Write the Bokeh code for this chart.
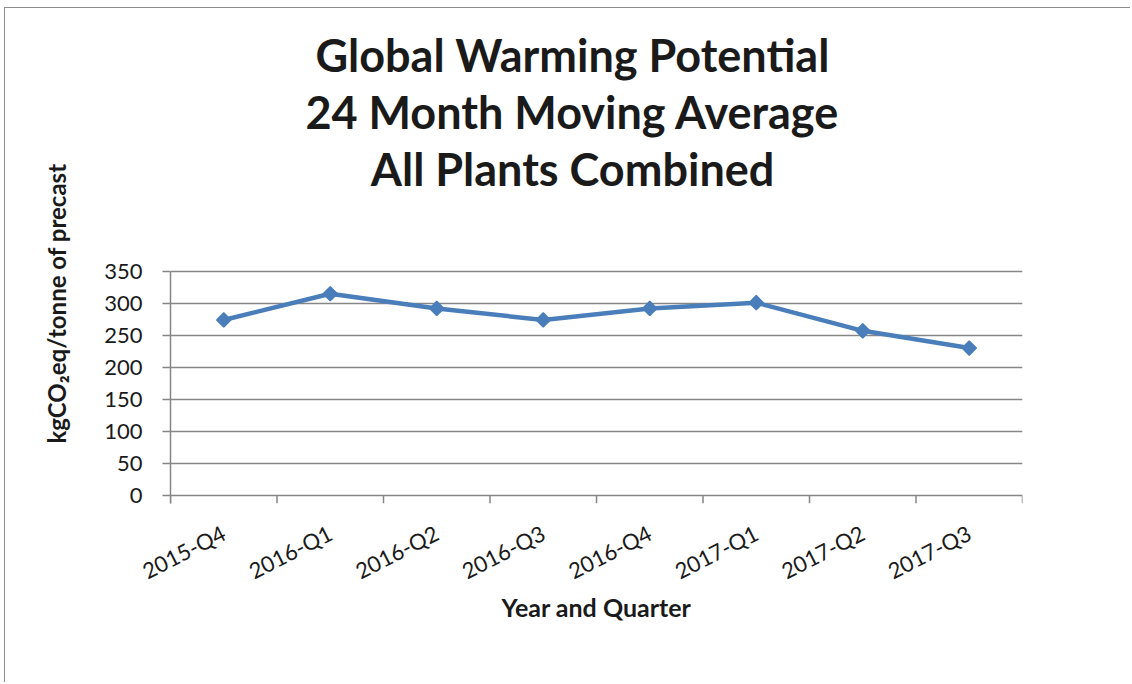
import math
from bokeh.plotting import figure
from bokeh.models import (FactorRange, Range1d, FixedTicker, LinearAxis,
                          CategoricalAxis, Label, Title)
from bokeh.embed import file_html
from bokeh.resources import INLINE

# 24-month moving average of global warming potential, all plants
quarters = ["2015-Q4", "2016-Q1", "2016-Q2", "2016-Q3",
            "2016-Q4", "2017-Q1", "2017-Q2", "2017-Q3"]
gwp = [275, 316, 293, 275, 293, 302, 258, 231]
y_ticks = [0, 50, 100, 150, 200, 250, 300, 350]
title_lines = ["Global Warming Potential", "24 Month Moving Average",
               "All Plants Combined"]
y_title = "kgCO\u2082eq/tonne of precast"
x_title = "Year and Quarter"

FONT = "Lato"
GRID = "#868686"
BLUE = "#4a7ebb"
TEXT = "#1a1a1a"
EDGE = "#8c8c8c"

Y_LOW = -12    # room below zero for the category tick marks
Y_HIGH = 762   # head room above the value axis for the chart title

p = figure(width=1126, height=675,
           x_range=FactorRange(factors=quarters, range_padding=0),
           y_range=Range1d(Y_LOW, Y_HIGH),
           output_backend="svg", toolbar_location=None,
           x_axis_location=None, y_axis_location=None,
           min_border_left=165, min_border_right=109,
           min_border_top=0, min_border_bottom=180,
           styles={"border-left": f"1.5px solid {EDGE}",
                   "border-top": f"1.5px solid {EDGE}",
                   "border-right": "none", "border-bottom": "none",
                   "margin-left": "4px", "margin-top": "7px"})
p.outline_line_color = None
p.background_fill_color = "white"
p.border_fill_color = "white"

# value axis
yax = LinearAxis(ticker=FixedTicker(ticks=y_ticks), bounds=(Y_LOW, 350))
yax.axis_line_color = GRID
yax.axis_line_width = 1.5
yax.major_tick_line_color = GRID
yax.major_tick_line_width = 1.5
yax.major_tick_out = 8
yax.major_tick_in = 0
yax.minor_tick_line_color = None
yax.major_label_standoff = 20
yax.major_label_text_font = FONT
yax.major_label_text_font_size = "22px"
yax.major_label_text_color = TEXT
p.add_layout(yax, "left")

# value axis title, read bottom to top
p.add_layout(Title(text=y_title, align="left", offset=60, standoff=62,
                   text_font=FONT, text_font_style="bold",
                   text_font_size="24px", text_color=TEXT), "left")

# category labels
xax = CategoricalAxis()
xax.axis_line_color = None
xax.major_tick_line_color = None
xax.major_tick_out = 0
xax.major_tick_in = 0
xax.major_label_orientation = 0.47
xax.major_label_standoff = 28
xax.major_label_text_font = FONT
xax.major_label_text_font_size = "22px"
xax.major_label_text_color = TEXT
xax.axis_label = x_title
xax.axis_label_text_font = FONT
xax.axis_label_text_font_style = "bold"
xax.axis_label_text_font_size = "25px"
xax.axis_label_text_color = TEXT
xax.axis_label_standoff = -7
p.add_layout(xax, "below")

p.xgrid.grid_line_color = None
p.ygrid.ticker = FixedTicker(ticks=y_ticks)
p.ygrid.grid_line_color = GRID
p.ygrid.grid_line_width = 1.5

# tick marks on the boundaries between categories (synthetic coordinates)
edges = list(range(len(quarters) + 1))
p.segment(x0=edges, y0=[0] * len(edges), x1=edges, y1=[Y_LOW] * len(edges),
          line_color=GRID, line_width=1.5)

p.line(quarters, gwp, line_color=BLUE, line_width=4.5)
p.scatter(quarters, gwp, marker="square", angle=math.pi / 4, size=10,
          fill_color=BLUE, line_color=BLUE, line_width=1.5)

# chart title, three centred lines in the head room
title_y = [689, 600, 511]
for txt, ty in zip(title_lines, title_y):
    p.add_layout(Label(x=3.775, y=ty, text=txt, text_align="center",
                       text_baseline="alphabetic", text_font=FONT,
                       text_font_style="bold", text_font_size="45px",
                       text_color=TEXT))

open("out.html", "w").write(file_html(p, INLINE))
